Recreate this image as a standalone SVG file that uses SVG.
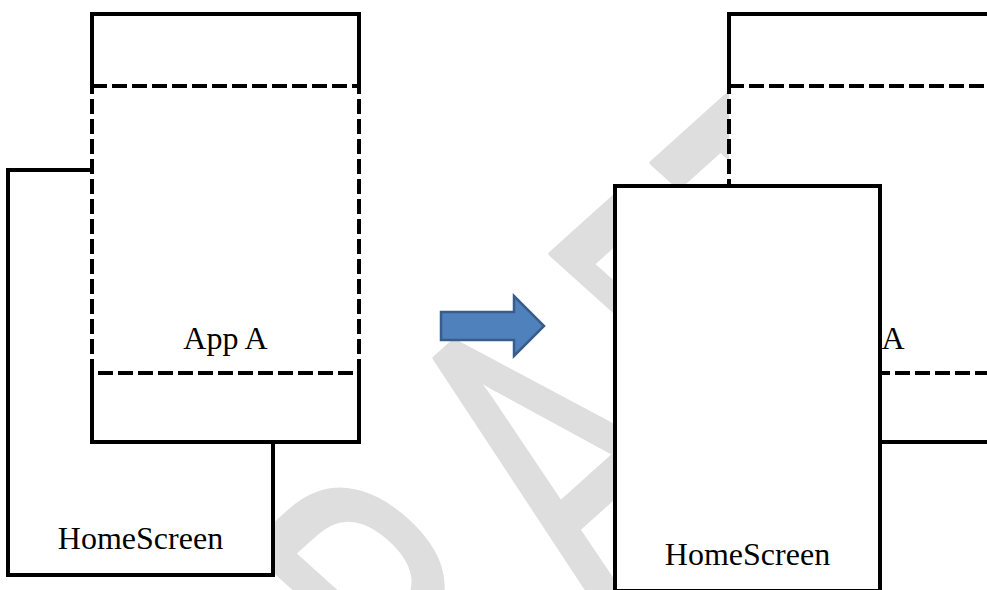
<svg xmlns="http://www.w3.org/2000/svg" width="987" height="590" viewBox="0 0 987 590">
  <style>
    .solid { fill: none; stroke: #000; stroke-width: 4; stroke-linecap: square; stroke-linejoin: miter; }
    .dash { fill: none; stroke: #000; stroke-width: 4; stroke-dasharray: 15 5; }
    .bg { fill: #fff; stroke: none; }
    .lbl { font-family: "Liberation Serif", "Times New Roman", serif; font-size: 32px; fill: #000; text-anchor: middle; }
    .wm { font-family: "Lato", "Open Sans", sans-serif; font-size: 360px; fill: #dedede; stroke: #dedede; stroke-width: 5; stroke-linejoin: round; vector-effect: non-scaling-stroke; }
    .arrow { fill: #4f81bd; stroke: #385d8a; stroke-width: 2.5; }
  </style>
  <rect width="987" height="590" fill="#fff"/>
  <g id="watermark" transform="translate(445,350) scale(1,0.9) rotate(-45)">
    <text class="wm" transform="scale(0.7,1.25)" x="-720" y="258" text-anchor="middle">D</text>
    <text class="wm" transform="scale(0.8,1.25)" x="-401" y="272">R</text>
    <text class="wm" transform="scale(0.8,1.25)" x="0" y="258" text-anchor="middle">A</text>
    <text class="wm" transform="scale(0.65,1.25)" x="299" y="258" text-anchor="middle">F</text>
    <text class="wm" transform="scale(0.7,1.25)" x="519" y="258" text-anchor="middle">T</text>
  </g>
  <g id="left-homescreen">
    <rect class="bg" x="8" y="170" width="265" height="405"/>
    <rect class="solid" x="8" y="170" width="265" height="405"/>
    <text class="lbl" x="140.5" y="549">HomeScreen</text>
  </g>
  <g id="left-app">
    <rect class="bg" x="92" y="14" width="267" height="428"/>
    <path class="solid" d="M92,86 V14 H359 V86 M92,373 V442 H359 V373"/>
    <rect class="dash" x="92" y="86" width="267" height="287"/>
    <text class="lbl" x="225.5" y="349">App A</text>
  </g>
  <g id="right-app">
    <rect class="bg" x="729" y="14" width="267" height="428"/>
    <path class="solid" d="M729,86 V14 H996 V86 M729,373 V442 H996 V373"/>
    <rect class="dash" x="729" y="86" width="267" height="287"/>
    <text class="lbl" x="862.5" y="349">App A</text>
  </g>
  <g id="right-homescreen">
    <rect class="bg" x="615" y="186" width="265" height="405"/>
    <rect class="solid" x="615" y="186" width="265" height="405"/>
    <text class="lbl" x="747.5" y="565">HomeScreen</text>
  </g>
  <g id="connectors">
    <path class="arrow" d="M441,312 H514 V296 L544,326 L514,356 V340 H441 Z"/>
  </g>
</svg>
